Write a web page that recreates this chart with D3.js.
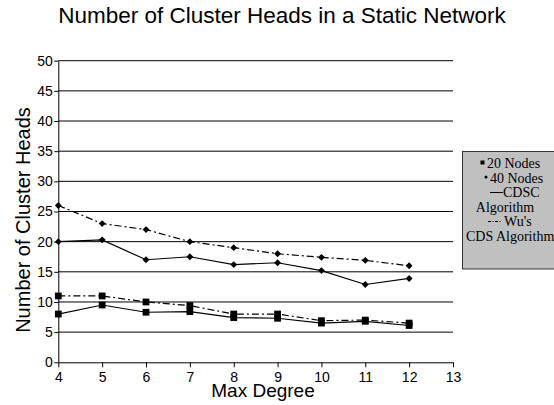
<!DOCTYPE html>
<html>
<head>
<meta charset="utf-8">
<script src="https://cdn.jsdelivr.net/npm/d3@7"></script>
<style>
  html, body { margin: 0; padding: 0; background: #fff; }
  svg { display: block; }
</style>
</head>
<body>
<svg id="chart" width="554" height="405"></svg>
<script>
// Max degree values on the x axis
const degrees = [4, 5, 6, 7, 8, 9, 10, 11, 12];
const xTicks = [4, 5, 6, 7, 8, 9, 10, 11, 12, 13];
const yTicks = [0, 5, 10, 15, 20, 25, 30, 35, 40, 45, 50];

// Cluster head counts per series
const cdsc20 = [8, 9.5, 8.3, 8.4, 7.4, 7.3, 6.5, 6.8, 6.1];
const wu20   = [11, 11, 10, 9.4, 8, 8, 6.9, 7, 6.5];
const cdsc40 = [20, 20.3, 17, 17.5, 16.2, 16.5, 15.2, 12.9, 13.9];
const wu40   = [26, 23, 22, 20, 19, 18, 17.4, 16.9, 16];

const series = [
  { values: wu40,   marker: "diamond", dash: "7,3,2,3" },
  { values: cdsc40, marker: "diamond", dash: null },
  { values: wu20,   marker: "square",  dash: "7,3,2,3" },
  { values: cdsc20, marker: "square",  dash: null }
];

const svg = d3.select("#chart");
const plotL = 58.3, plotR = 453, plotT = 60.7, plotB = 362.3;
const sans = "Liberation Sans, Arial, sans-serif";

const x = d3.scaleLinear().domain([4, 13]).range([plotL, plotR]);
const y = d3.scaleLinear().domain([0, 50]).range([plotB, plotT]);

// Title
svg.append("text")
  .attr("x", 282).attr("y", 23)
  .attr("text-anchor", "middle")
  .attr("font-family", sans)
  .attr("font-size", 22.5)
  .text("Number of Cluster Heads in a Static Network");

// Horizontal gridlines
svg.append("g")
  .selectAll("line")
  .data(yTicks.filter(d => d > 0))
  .join("line")
  .attr("x1", plotL).attr("x2", plotR)
  .attr("y1", d => y(d))
  .attr("y2", d => y(d))
  .attr("stroke", "#000")
  .attr("stroke-width", 1);

// Y axis
const yAxis = svg.append("g")
  .attr("transform", `translate(${plotL},0)`)
  .call(d3.axisLeft(y).tickValues(yTicks).tickSize(4).tickSizeOuter(0).tickPadding(1.5));

// X axis
const xAxis = svg.append("g")
  .attr("transform", `translate(0,${plotB})`)
  .call(d3.axisBottom(x).tickValues(xTicks).tickSize(5).tickSizeOuter(0).tickPadding(5));

[yAxis, xAxis].forEach(g => {
  g.select(".domain").attr("stroke", "#000");
  g.selectAll(".tick line").attr("stroke", "#000");
  g.selectAll(".tick text")
    .attr("fill", "#000")
    .attr("font-family", sans)
    .attr("font-size", 14);
});

// Axis titles
svg.append("text")
  .attr("transform", "translate(29.5,220) rotate(-90)")
  .attr("text-anchor", "middle")
  .attr("font-family", sans)
  .attr("font-size", 20)
  .text("Number of Cluster Heads");

svg.append("text")
  .attr("x", 263).attr("y", 397)
  .attr("text-anchor", "middle")
  .attr("font-family", sans)
  .attr("font-size", 19)
  .text("Max Degree");

// Series lines and markers
const line = d3.line()
  .x((d, i) => x(degrees[i]))
  .y(d => y(d));

const squareSym = d3.symbol().type(d3.symbolSquare).size(46);
const diamondSym = d3.symbol().type(d3.symbolDiamond2).size(30);

series.forEach(s => {
  svg.append("path")
    .datum(s.values)
    .attr("d", line)
    .attr("fill", "none")
    .attr("stroke", "#000")
    .attr("stroke-width", 1.2)
    .attr("stroke-dasharray", s.dash);
  svg.append("g")
    .selectAll("path")
    .data(s.values)
    .join("path")
    .attr("transform", (d, i) => `translate(${x(degrees[i])},${y(d)})`)
    .attr("d", s.marker === "square" ? squareSym() : diamondSym())
    .attr("fill", "#000");
});

// Legend
const legend = svg.append("g");
legend.append("rect")
  .attr("x", 462.5).attr("y", 151.5)
  .attr("width", 100).attr("height", 117.5)
  .attr("fill", "#c0c0c0")
  .attr("stroke", "#333");

const serif = "Liberation Serif, Times New Roman, serif";
const lg = (tx, ty, text, anchor) => legend.append("text")
  .attr("x", tx).attr("y", ty)
  .attr("text-anchor", anchor || "start")
  .attr("font-family", serif)
  .attr("font-size", 14)
  .text(text);

legend.append("rect").attr("x", 480.5).attr("y", 160.5).attr("width", 4).attr("height", 4).attr("fill", "#000");
lg(487, 168, "20 Nodes");
legend.append("circle").attr("cx", 486).attr("cy", 177).attr("r", 1.5).attr("fill", "#000");
lg(490, 182.5, "40 Nodes");
legend.append("line").attr("x1", 490).attr("x2", 503).attr("y1", 192.5).attr("y2", 192.5)
  .attr("stroke", "#000").attr("stroke-width", 1);
lg(503, 197, "CDSC");
lg(505, 211.5, "Algorithm", "middle");
legend.append("line").attr("x1", 488).attr("x2", 502).attr("y1", 221.5).attr("y2", 221.5)
  .attr("stroke", "#000").attr("stroke-width", 1).attr("stroke-dasharray", "3,1.5,1,1.5");
lg(504, 226, "Wu's");
lg(466, 240.5, "CDS Algorithm");
</script>
</body>
</html>
